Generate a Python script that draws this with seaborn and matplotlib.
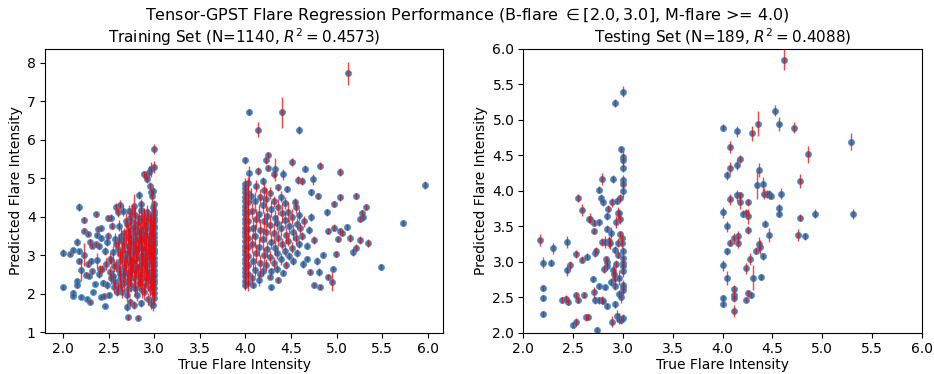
import matplotlib
matplotlib.use("Agg")
import matplotlib.pyplot as plt
import numpy as np
import pandas as pd
import seaborn as sns

# ---------------- data (x = true, y = predicted, e = error) ----------------
train_b_sparse = [
    (2.00, 3.07, .08), (2.00, 2.17, .06), (2.08, 3.04, .05), (2.11, 3.14, .06), (2.11, 2.03, .06),
    (2.11, 1.94, .05), (2.15, 3.34, .1), (2.15, 2.33, .06), (2.15, 2.22, .06), (2.18, 4.26, .1),
    (2.18, 3.10, .06), (2.18, 2.84, .08), (2.20, 1.92, .05), (2.20, 2.63, .3), (2.23, 3.92, .08),
    (2.23, 3.64, .06), (2.23, 3.01, .3), (2.25, 2.50, .06), (2.26, 1.86, .05), (2.27, 3.56, .06),
    (2.27, 2.78, .08), (2.29, 2.46, .06), (2.30, 3.34, .08), (2.30, 1.79, .05), (2.31, 2.84, .08),
    (2.32, 3.25, .06), (2.32, 2.58, .06), (2.33, 2.05, .06), (2.35, 2.25, .06), (2.36, 4.06, .06),
    (2.36, 3.28, .06), (2.37, 3.52, .06), (2.37, 2.87, .2), (2.38, 3.67, .06), (2.40, 2.52, .1),
    (2.40, 3.24, .08), (2.41, 2.65, .1), (2.42, 3.44, .08), (2.42, 3.70, .06), (2.42, 1.92, .06),
    (2.43, 2.65, .1), (2.44, 2.27, .08), (2.45, 1.94, .06), (2.46, 3.11, .1), (2.46, 1.68, .06),
    (2.47, 2.77, .15), (2.48, 2.22, .1), (2.48, 3.34, .1), (2.49, 3.51, .1), (2.49, 3.96, .08),
    (2.51, 1.97, .08), (2.52, 2.91, .15), (2.52, 2.57, .15), (2.53, 2.40, .15), (2.53, 3.98, .1),
    (2.54, 3.77, .1), (2.55, 3.08, .15), (2.56, 2.18, .15), (2.57, 3.43, .15), (2.58, 4.24, .12),
    (2.58, 2.74, .15), (2.59, 2.05, .12), (2.60, 4.11, .12), (2.60, 3.17, .2), (2.61, 3.77, .15),
    (2.62, 2.52, .2), (2.63, 4.31, .12), (2.64, 3.51, .2), (2.64, 2.22, .15), (2.65, 2.91, .2),
    (2.66, 4.16, .15), (2.67, 3.25, .2), (2.68, 2.57, .2), (2.69, 3.90, .2), (2.70, 1.97, .15),
    (2.70, 1.66, .1), (2.71, 1.39, .06), (2.71, 3.60, .2), (2.72, 3.00, .25), (2.72, 4.16, .15),
    (2.73, 2.40, .2), (2.74, 1.79, .1), (2.74, 3.43, .2), (2.75, 3.90, .2), (2.75, 2.74, .25),
    (2.76, 4.16, .15), (2.77, 3.21, .25), (2.78, 1.71, .1), (2.78, 4.29, .3), (2.79, 2.14, .2),
    (2.79, 3.77, .25), (2.80, 2.65, .25), (2.80, 3.00, .25), (2.81, 1.97, .15), (2.82, 1.38, .06),
    (2.83, 4.56, .1), (2.83, 3.43, .25), (2.83, 3.98, .2), (2.84, 2.40, .25), (2.85, 3.25, .25),
    (2.86, 4.18, .2), (2.86, 1.75, .1), (2.86, 4.32, .15), (2.87, 2.82, .25), (2.88, 3.60, .25),
    (2.89, 2.05, .2), (2.89, 5.10, .1), (2.89, 3.94, .25), (2.90, 3.08, .25), (2.91, 5.06, .1),
    (2.91, 2.57, .25), (2.91, 3.43, .25), (2.92, 4.97, .1), (2.92, 4.11, .2), (2.93, 1.86, .15),
    (2.94, 2.91, .25), (2.94, 5.16, .15), (2.95, 4.80, .1), (2.95, 3.77, .25), (2.96, 4.63, .1),
    (2.96, 1.75, .15), (2.97, 2.40, .25), (2.97, 5.23, .2), (2.97, 3.25, .25), (2.98, 4.54, .15),
    (2.99, 1.71, .15), (2.99, 4.24, .1), (2.99, 4.67, .1), (3.00, 5.29, .15), (3.00, 5.76, .12),
    (3.00, 4.33, .1), (3.00, 1.88, .15),
]

train_b_dense = [
    (2.98, 2.08, .2), (2.99, 2.21, .25), (2.97, 2.33, .2), (2.99, 2.46, .3), (2.98, 2.59, .25),
    (2.99, 2.71, .3), (2.97, 2.86, .25), (2.99, 2.97, .3), (2.98, 3.12, .25), (2.99, 3.26, .3),
    (2.97, 3.39, .25), (2.99, 3.52, .3), (2.98, 3.66, .25), (2.99, 3.80, .25), (2.97, 3.93, .2),
    (2.99, 4.06, .2), (3.00, 2.03, .2), (3.00, 2.14, .25), (3.00, 2.27, .3), (3.00, 2.36, .25),
    (3.00, 2.52, .3), (3.00, 2.61, .3), (3.00, 2.74, .25), (3.00, 2.83, .3), (3.00, 2.92, .3),
    (3.00, 3.05, .3), (3.00, 3.17, .3), (3.00, 3.29, .25), (3.00, 3.36, .3), (3.00, 3.48, .3),
    (3.00, 3.57, .25), (3.00, 3.70, .3), (3.00, 3.76, .25), (3.00, 3.88, .2), (3.00, 3.97, .25),
    (3.00, 4.08, .2), (3.00, 4.15, .15), (3.00, 2.45, .2), (3.00, 3.12, .2),
    (2.95, 2.15, .2), (2.93, 2.32, .25), (2.94, 2.55, .2), (2.92, 2.78, .3), (2.95, 3.02, .25),
    (2.93, 3.19, .3), (2.94, 3.45, .2), (2.92, 3.71, .25), (2.95, 3.88, .2), (2.93, 4.05, .15),
    (2.90, 2.23, .2), (2.91, 2.44, .25), (2.89, 2.66, .3), (2.90, 2.90, .25), (2.91, 3.13, .3),
    (2.89, 3.37, .25), (2.90, 3.56, .3), (2.91, 3.80, .2), (2.89, 4.02, .2),
    (2.87, 2.10, .2), (2.86, 2.35, .25), (2.87, 2.52, .3), (2.85, 2.75, .3), (2.86, 2.98, .25),
    (2.87, 3.20, .3), (2.85, 3.48, .25), (2.86, 3.68, .3), (2.87, 3.92, .2),
    (2.83, 2.28, .2), (2.82, 2.48, .3), (2.83, 2.70, .25), (2.81, 2.93, .3), (2.82, 3.15, .25),
    (2.83, 3.36, .3), (2.81, 3.62, .25), (2.82, 3.85, .2),
    (2.79, 2.16, .2), (2.78, 2.40, .25), (2.79, 2.58, .3), (2.77, 2.84, .25), (2.78, 3.06, .3),
    (2.79, 3.30, .25), (2.77, 3.53, .2), (2.78, 3.74, .2), (2.79, 4.04, .2),
    (2.75, 2.24, .2), (2.74, 2.46, .25), (2.75, 2.62, .2), (2.73, 2.88, .25), (2.74, 3.10, .3),
    (2.75, 3.33, .2), (2.73, 3.66, .2), (2.74, 3.98, .15),
    (2.71, 2.12, .2), (2.70, 2.34, .2), (2.71, 2.55, .25), (2.69, 2.80, .2), (2.70, 3.05, .25),
    (2.71, 3.24, .2), (2.69, 3.47, .2), (2.70, 3.80, .15),
    (2.67, 2.27, .2), (2.66, 2.50, .2), (2.67, 2.69, .2), (2.65, 3.12, .2), (2.66, 3.35, .15),
    (2.67, 3.57, .15), (2.65, 2.05, .15), (2.62, 2.38, .2), (2.61, 2.62, .15), (2.63, 2.86, .2),
    (2.62, 3.02, .15), (2.61, 3.40, .15), (2.60, 2.15, .15), (2.57, 2.30, .15), (2.56, 2.72, .15),
    (2.58, 3.28, .1), (2.55, 2.46, .15), (2.53, 2.88, .1),
    (2.96, 2.40, .25), (2.96, 2.92, .3), (2.97, 3.55, .25), (2.94, 3.28, .25), (2.92, 2.58, .25),
    (2.88, 3.00, .25), (2.84, 3.58, .25), (2.80, 3.40, .2), (2.76, 2.72, .25), (2.72, 3.50, .2),
    (2.68, 2.95, .2),
]

train_m_sparse = [
    (4.00, 5.46, .1), (4.04, 6.71, .08), (4.04, 5.13, .2), (4.08, 2.22, .06), (4.14, 6.26, .2),
    (4.14, 5.19, .1), (4.16, 2.52, .08), (4.19, 4.93, .1), (4.23, 5.46, .1), (4.25, 5.61, .08),
    (4.25, 5.27, .08), (4.27, 2.44, .06), (4.28, 2.17, .06), (4.31, 5.10, .1), (4.32, 5.23, .3),
    (4.36, 2.35, .08), (4.36, 4.76, .08), (4.40, 6.71, .4), (4.41, 5.10, .15), (4.41, 2.54, .08),
    (4.46, 4.71, .08), (4.51, 5.43, .1), (4.54, 4.39, .1), (4.58, 4.95, .1), (4.59, 6.26, .1),
    (4.62, 4.93, .1), (4.65, 5.25, .1), (4.67, 2.91, .06), (4.71, 2.57, .08), (4.72, 4.63, .08),
    (4.74, 4.97, .15), (4.75, 2.22, .06), (4.79, 4.53, .08), (4.82, 5.33, .1), (4.82, 2.18, .06),
    (4.81, 2.57, .1), (4.85, 3.00, .08), (4.89, 4.11, .08), (4.90, 3.62, .08), (4.91, 2.44, .08),
    (4.95, 2.31, .25), (4.96, 2.65, .08), (4.97, 3.72, .08), (4.97, 4.33, .08), (4.99, 3.04, .08),
    (5.01, 3.43, .08), (5.04, 3.64, .08), (5.04, 5.17, .1), (5.04, 4.50, .08), (5.06, 3.57, .08),
    (5.11, 3.73, .08), (5.12, 7.72, .3), (5.15, 3.45, .1), (5.18, 3.08, .1), (5.21, 3.20, .08),
    (5.21, 4.54, .08), (5.26, 3.94, .08), (5.26, 3.39, .1), (5.28, 4.10, .08), (5.29, 3.99, .1),
    (5.32, 4.26, .08), (5.34, 3.32, .1), (5.49, 2.70, .08), (5.73, 3.83, .08), (5.97, 4.82, .1),
]

train_m_dense = [
    (4.00, 2.24, .15), (4.00, 2.33, .2), (4.00, 2.45, .3), (4.00, 2.56, .3), (4.00, 2.68, .3),
    (4.00, 2.79, .35), (4.00, 2.91, .35), (4.00, 3.02, .3), (4.00, 3.14, .35), (4.00, 3.25, .35),
    (4.00, 3.37, .3), (4.00, 3.49, .35), (4.00, 3.60, .3), (4.00, 3.71, .35), (4.00, 3.83, .3),
    (4.00, 3.94, .3), (4.00, 4.06, .3), (4.00, 4.17, .25), (4.00, 4.29, .25), (4.00, 4.40, .25),
    (4.00, 4.52, .2), (4.00, 4.63, .2), (4.00, 4.74, .2), (4.00, 4.86, .15),
    (4.03, 2.28, .2), (4.03, 2.52, .3), (4.03, 2.74, .3), (4.03, 2.98, .35), (4.03, 3.21, .3),
    (4.03, 3.45, .3), (4.03, 3.68, .3), (4.03, 3.90, .3), (4.03, 4.12, .25), (4.03, 4.38, .2),
    (4.03, 4.62, .2), (4.03, 4.88, .15),
    (4.07, 2.40, .15), (4.08, 2.85, .2), (4.07, 3.30, .25), (4.08, 3.72, .25), (4.07, 4.15, .2),
    (4.06, 4.55, .2), (4.11, 2.62, .15), (4.12, 3.05, .25), (4.11, 3.50, .3), (4.12, 3.95, .25),
    (4.11, 4.40, .25), (4.12, 4.80, .15), (4.15, 2.35, .15), (4.16, 2.80, .2), (4.15, 3.22, .25),
    (4.16, 3.65, .3), (4.15, 4.08, .25), (4.16, 4.52, .2), (4.19, 2.60, .15), (4.20, 3.00, .2),
    (4.19, 3.42, .3), (4.20, 3.88, .25), (4.19, 4.30, .2), (4.20, 4.70, .2), (4.23, 2.75, .15),
    (4.24, 3.15, .2), (4.23, 3.60, .25), (4.24, 4.02, .25), (4.23, 4.45, .3), (4.27, 2.95, .15),
    (4.28, 3.35, .2), (4.27, 3.78, .25), (4.28, 4.20, .2), (4.27, 4.62, .15), (4.28, 2.58, .1),
    (4.31, 2.80, .15), (4.32, 3.20, .2), (4.31, 3.58, .25), (4.32, 3.98, .2), (4.31, 4.40, .15),
    (4.35, 3.05, .15), (4.36, 3.45, .2), (4.35, 3.85, .2), (4.36, 4.25, .2), (4.35, 2.65, .1),
    (4.39, 2.90, .15), (4.40, 3.30, .15), (4.39, 3.70, .2), (4.40, 4.10, .25), (4.39, 4.52, .15),
    (4.43, 3.12, .15), (4.44, 3.52, .2), (4.43, 3.92, .2), (4.44, 2.75, .1), (4.43, 4.35, .15),
    (4.47, 3.38, .15), (4.48, 3.75, .2), (4.47, 4.12, .25), (4.48, 2.98, .1), (4.51, 3.20, .15),
    (4.52, 3.60, .2), (4.51, 4.00, .2), (4.52, 2.85, .1), (4.55, 3.45, .15), (4.56, 3.82, .15),
    (4.55, 4.25, .15), (4.56, 3.05, .1), (4.59, 3.30, .1), (4.60, 3.70, .15), (4.59, 4.05, .15),
    (4.62, 3.50, .1), (4.64, 3.88, .15), (4.63, 2.78, .1), (4.68, 3.25, .1), (4.70, 3.65, .1),
    (4.72, 4.00, .1), (4.75, 3.40, .1), (4.78, 2.85, .1),
]

test_b = [
    (2.17, 3.31, .08), (2.20, 2.99, .08), (2.20, 2.63, .04), (2.20, 2.49, .04), (2.20, 2.27, .04),
    (2.28, 2.99, .05), (2.30, 3.19, .08), (2.39, 2.46, .04), (2.43, 2.48, .05), (2.44, 3.28, .08),
    (2.44, 2.88, .08), (2.45, 2.44, .05), (2.47, 2.95, .06), (2.50, 2.11, .04), (2.53, 2.15, .06),
    (2.53, 3.11, .06), (2.53, 2.53, .05), (2.55, 2.47, .05), (2.55, 3.90, .06), (2.59, 3.73, .08),
    (2.59, 3.03, .05), (2.61, 2.53, .04), (2.63, 2.22, .05), (2.65, 2.22, .04), (2.64, 3.07, .05),
    (2.66, 3.60, .05), (2.67, 3.61, .08), (2.71, 3.55, .05), (2.71, 3.44, .04), (2.70, 2.76, .04),
    (2.71, 2.57, .08), (2.72, 3.13, .06), (2.73, 3.16, .05), (2.72, 2.46, .05), (2.74, 2.04, .04),
    (2.76, 4.02, .05), (2.76, 3.56, .05), (2.76, 2.66, .04), (2.76, 2.46, .05), (2.78, 3.90, .05),
    (2.79, 4.17, .08), (2.79, 3.28, .05), (2.79, 2.46, .06), (2.80, 3.84, .05), (2.80, 2.45, .04),
    (2.81, 2.90, .06), (2.82, 2.64, .04), (2.82, 3.28, .08), (2.83, 3.04, .05), (2.84, 3.00, .06),
    (2.84, 2.94, .06), (2.84, 3.47, .05), (2.84, 3.64, .05), (2.84, 2.38, .04), (2.85, 3.75, .05),
    (2.86, 3.30, .06), (2.86, 3.27, .08), (2.87, 3.26, .08), (2.88, 2.72, .06), (2.88, 3.41, .08),
    (2.89, 3.84, .06), (2.89, 2.16, .08), (2.90, 2.88, .08), (2.90, 4.17, .06), (2.91, 2.83, .1),
    (2.92, 5.24, .06), (2.92, 3.17, .05), (2.92, 2.78, .1), (2.92, 2.66, .06), (2.92, 2.40, .05),
    (2.93, 3.56, .08), (2.93, 2.97, .05), (2.94, 2.24, .08), (2.94, 3.86, .05), (2.95, 3.69, .08),
    (2.95, 3.27, .06), (2.95, 3.10, .05), (2.96, 2.78, .1), (2.96, 3.69, .06), (2.96, 2.55, .06),
    (2.96, 2.20, .08), (2.97, 3.39, .05), (2.97, 3.90, .06), (2.97, 3.60, .06), (2.98, 2.50, .08),
    (2.98, 4.59, .05), (2.98, 2.18, .06), (2.99, 3.33, .06), (2.99, 3.26, .06), (3.00, 3.16, .05),
    (3.00, 3.05, .08), (3.00, 2.99, .08), (3.00, 2.94, .1), (3.00, 2.87, .08), (3.00, 2.68, .06),
    (3.00, 2.64, .08), (3.00, 2.60, .06), (3.00, 2.21, .05), (3.00, 5.40, .08), (3.00, 4.48, .08),
    (3.00, 4.44, .08), (3.00, 4.33, .06), (3.00, 4.15, .08), (3.00, 4.10, .06), (3.00, 4.00, .08),
]

test_m = [
    (4.00, 3.70, .08), (4.00, 2.95, .08), (4.00, 4.89, .05), (4.00, 2.49, .05), (4.00, 2.40, .04),
    (4.04, 4.22, .06), (4.04, 3.50, .08), (4.04, 3.15, .05), (4.04, 2.77, .1), (4.07, 4.62, .08),
    (4.07, 4.33, .08), (4.07, 3.88, .08), (4.07, 3.27, .05), (4.11, 3.33, .08), (4.11, 2.62, .06),
    (4.11, 2.54, .05), (4.11, 2.49, .05), (4.11, 2.31, .08), (4.14, 4.37, .08), (4.14, 3.94, .08),
    (4.14, 4.84, .08), (4.15, 3.36, .08), (4.15, 3.27, .08), (4.17, 4.45, .05), (4.17, 3.94, .05),
    (4.17, 3.84, .1), (4.20, 3.68, .05), (4.23, 3.69, .05), (4.23, 2.91, .08), (4.23, 2.47, .04),
    (4.25, 3.64, .1), (4.25, 3.45, .05), (4.25, 3.84, .05), (4.25, 2.56, .05), (4.27, 3.04, .08),
    (4.28, 2.53, .04), (4.29, 4.81, .1), (4.30, 2.78, .18), (4.34, 3.16, .05), (4.35, 4.08, .2),
    (4.36, 4.95, .18), (4.37, 4.30, .1), (4.37, 3.25, .1), (4.38, 3.21, .1), (4.39, 2.79, .04),
    (4.41, 4.10, .1), (4.41, 3.08, .05), (4.42, 3.96, .08), (4.43, 3.54, .05), (4.45, 3.96, .06),
    (4.47, 3.95, .06), (4.47, 3.38, .1), (4.49, 3.93, .04), (4.53, 5.13, .08), (4.57, 4.94, .1),
    (4.57, 3.68, .05), (4.57, 3.76, .05), (4.59, 3.96, .08), (4.62, 5.85, .15), (4.72, 4.89, .08),
    (4.76, 3.38, .08), (4.78, 3.62, .05), (4.78, 4.14, .1), (4.83, 3.36, .05), (4.86, 4.52, .12),
    (4.93, 3.68, .06), (5.29, 4.69, .12), (5.31, 3.67, .07),
]

suptitle = "Tensor-GPST Flare Regression Performance (B-flare $\\in [2.0, 3.0]$, M-flare >= 4.0)"
train_title = "Training Set (N=1140, $R^2 = 0.4573$)"
test_title = "Testing Set (N=189, $R^2 = 0.4088$)"
test_ticks = [2.0, 2.5, 3.0, 3.5, 4.0, 4.5, 5.0, 5.5, 6.0]


def to_frame(*groups):
    rows = [r for g in groups for r in g]
    return pd.DataFrame(rows, columns=["true", "pred", "err"])


train_df = to_frame(train_b_sparse, train_b_dense, train_m_sparse, train_m_dense)
test_df = to_frame(test_b, test_m)

fig, axes = plt.subplots(1, 2, figsize=(9.34, 3.74), dpi=100)
fig.subplots_adjust(left=0.048, right=0.987, bottom=0.110, top=0.869, wspace=0.201)

for ax, df, title in [(axes[0], train_df, train_title), (axes[1], test_df, test_title)]:
    sns.scatterplot(data=df, x="true", y="pred", ax=ax, color="#1f77b4", s=20,
                    linewidth=0.5, edgecolor="#4a90c8", alpha=0.9, zorder=2)
    ax.errorbar(df["true"], df["pred"], yerr=df["err"], fmt="none", ecolor="red",
                elinewidth=1.0, alpha=0.75, zorder=3)
    ax.set_title(title, fontsize=11, pad=4)
    ax.set_xlabel("True Flare Intensity", fontsize=10, labelpad=1.5)
    ax.set_ylabel("Predicted Flare Intensity", fontsize=10, labelpad=3)
    ax.tick_params(labelsize=10, pad=3)

axes[1].set_xlim(2.0, 6.0)
axes[1].set_ylim(2.0, 6.0)
axes[1].set_xticks(test_ticks)
fig.suptitle(suptitle, fontsize=11.5, y=0.985)

fig.savefig("out.png", dpi=100)
